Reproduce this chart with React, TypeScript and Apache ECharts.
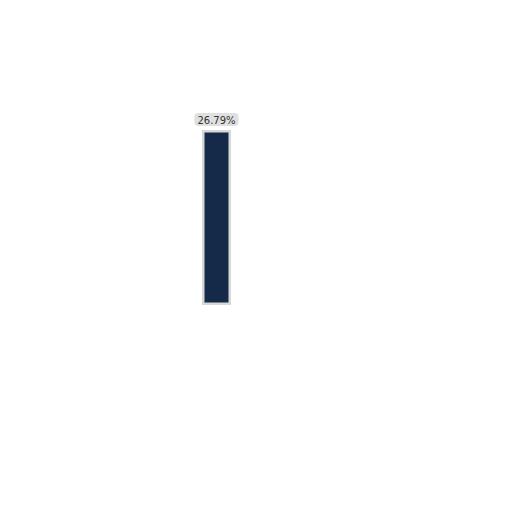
import React, { useRef, useEffect } from 'react';
import * as echarts from 'echarts';

// 데이터
const categories = ['rate'];
const values = [26.79];
const axisMax = 26.79;

const App: React.FC = () => {
    const chartRef = useRef<HTMLDivElement>(null);

    useEffect(() => {
        if (!chartRef.current) return;
        const chart = echarts.init(chartRef.current, undefined, { renderer: 'svg' });

        chart.setOption({
            animation: false,
            grid: {
                left: 196,
                width: 41,
                top: 130,
                bottom: 207
            },
            xAxis: {
                type: 'category',
                data: categories,
                show: false
            },
            yAxis: {
                type: 'value',
                min: 0,
                max: axisMax,
                show: false
            },
            series: [
                {
                    type: 'bar',
                    data: values,
                    barWidth: 29,
                    itemStyle: {
                        color: '#152a48',
                        borderColor: '#d8d8d8',
                        borderWidth: 2.5
                    },
                    label: {
                        show: true,
                        position: 'top',
                        distance: 4,
                        formatter: (p: any) => `${p.value}%`,
                        fontFamily: 'DejaVu Sans',
                        fontSize: 10,
                        color: '#333',
                        backgroundColor: '#e0e0e0',
                        borderRadius: 4,
                        padding: [2, 3, 1, 3]
                    }
                }
            ]
        });

        return () => {
            chart.dispose();
        };
    }, []);

    return (
        <div
            ref={chartRef}
            style={{ position: 'absolute', left: 0, top: 0, width: '512px', height: '512px' }}
        />
    );
};

export default App;
